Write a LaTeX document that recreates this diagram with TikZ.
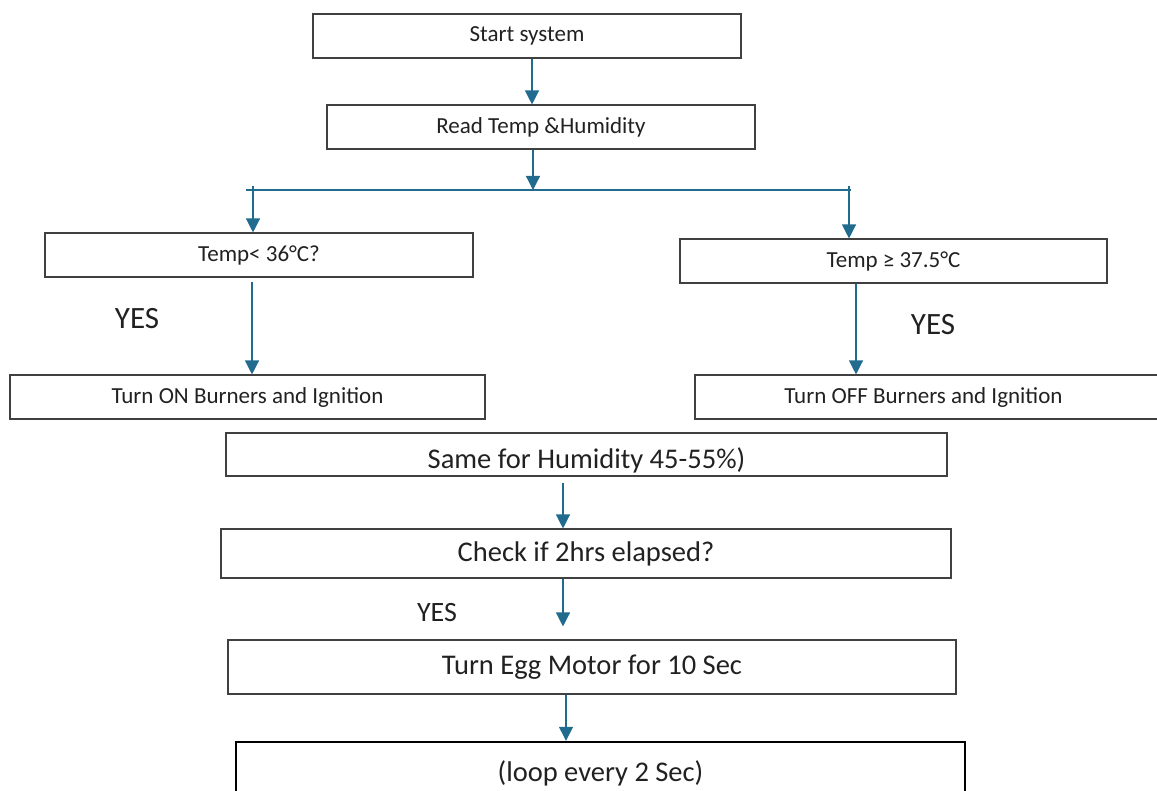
\documentclass[tikz,border=0pt]{standalone}
\usepackage{fontspec}
\setmainfont{Carlito}
\usetikzlibrary{arrows.meta}
\definecolor{flowblue}{rgb}{0.13, 0.42, 0.56}
\definecolor{boxgrey}{rgb}{0.25, 0.25, 0.25}
\definecolor{inkgrey}{rgb}{0.13, 0.13, 0.13}
\tikzset{box/.style={draw=boxgrey, line width=1.1pt, text=inkgrey, inner sep=0pt, font=\fontsize{23}{27}\selectfont}}
\tikzset{bigbox/.style={box, font=\fontsize{28.5}{33}\selectfont}}
\tikzset{note/.style={text=inkgrey, inner sep=0pt, font=\fontsize{31}{36}\selectfont}}
\tikzset{link/.style={line width=1.3pt, color=flowblue}}
\tikzset{flow/.style={link, -{Triangle[width=14pt, length=14pt]}}}

\begin{document}
\begin{tikzpicture}[x=1pt, y=-1pt]
        \clip (0,0) rectangle (1157,791);
        \useasboundingbox (0,0) rectangle (1157,791);

        \node[box, minimum width=428, minimum height=44] (start) at (527,36) {Start system};
        \node[box, minimum width=428, minimum height=44] (read) at (541,127) {Read Temp \&Humidity};
        \node[box, minimum width=428, minimum height=44] (lowtemp) at (259,255) {Temp< 36\textdegree C?};
        \node[box, minimum width=427, minimum height=44] (hightemp) at (893.5,261) {Temp \symbol{"2265} 37.5\textdegree C};
        \node[box, minimum width=475, minimum height=44] (heaton) at (247.5,397) {Turn ON Burners and Ignition};
        \node[box, minimum width=466, minimum height=44] (heatoff) at (928,397) {\hspace*{-9pt}Turn OFF Burners and Ignition};
        \node[bigbox, minimum width=721, minimum height=43] (humid) at (586.5,454.5) {\raisebox{-13.5pt}[0pt][0pt]{Same for Humidity 45-55\%)}};
        \node[bigbox, minimum width=730, minimum height=49] (check) at (586,553.5) {\raisebox{-3pt}{Check if 2hrs elapsed?}};
        \node[bigbox, minimum width=728, minimum height=54] (motor) at (592,667) {Turn Egg Motor for 10 Sec};
        \node[bigbox, draw=black, line width=2.4pt, minimum width=729, minimum height=62] (loop) at (600.5,773) {(loop every 2 Sec)};

        \node[note] (yesL) at (137,319) {YES};
        \node[note] (yesR) at (933,325) {YES};
        \node[note, font=\fontsize{28}{33}\selectfont] (yesT) at (437,613) {YES};

        % split bar under the reading step
        \coordinate (bar) at (533,190);
        \coordinate (barL) at (246,190);
        \coordinate (barR) at (851,190);
        \coordinate (tickL) at (253,186);
        \coordinate (tickR) at (849,186);

        \draw[flow] ([xshift=5]start.south) -- ([xshift=-9]read.north);
        \draw[flow] (read.south -| bar) -- (bar);
        \draw[link] (barL) -- (barR);
        \draw[flow] (tickL) -- (tickL |- lowtemp.north);
        \draw[flow] (tickR) -- (tickR |- hightemp.north);
        \draw[flow, shorten <=4] ([xshift=-7]lowtemp.south) -- ([xshift=4.5]heaton.north);
        \draw[flow] ([xshift=-37.5]hightemp.south) -- ([xshift=-72]heatoff.north);
        \draw[flow, shorten <=6] ([xshift=-23.5]humid.south) -- ([xshift=-23]check.north);
        \draw[flow, shorten >=13] ([xshift=-23]check.south) -- ([xshift=-29]motor.north);
        \draw[flow] ([xshift=-26]motor.south) -- ([xshift=-34.5]loop.north);
    \end{tikzpicture}
\end{document}
